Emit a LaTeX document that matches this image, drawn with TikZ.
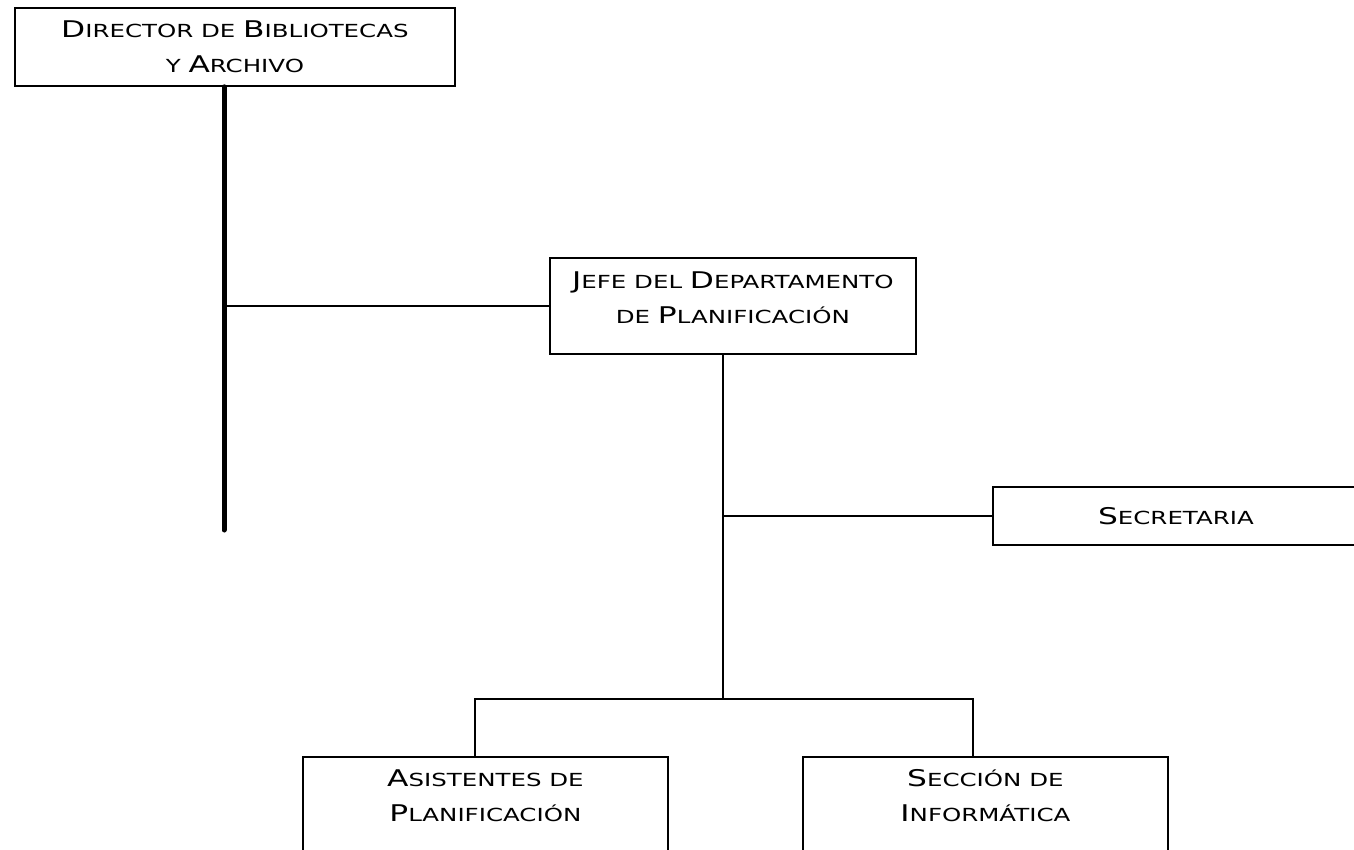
\documentclass[tikz,border=0pt]{standalone}
\usepackage{fontspec}
\setmainfont{DejaVu Sans}[FakeStretch=1.36]
\newcommand\Cap[1]{{\fontsize{23}{35}\selectfont #1}}
\newcommand\boxtext[4]{\begin{minipage}[t][#2][t]{#1}\centering\fontsize{18}{35}\selectfont\rule{0pt}{#3}#4\end{minipage}}
\tikzset{
  orgbox/.style={draw=black, line width=1.8pt, inner sep=0pt, anchor=north west, fill=white},
  link/.style={draw=black, line width=1.8pt},
  trunk/.style={draw=black, line width=5pt, line cap=round},
}
\begin{document}
\begin{tikzpicture}[x=1pt, y=-1pt]
\useasboundingbox (0,0) rectangle (1354,849);
\fill[white] (0,0) rectangle (1354,849);
\clip (0,0) rectangle (1354,849);

\coordinate (trunkend) at (224,530);
\coordinate (spine) at (723,699);
\coordinate (lb) at (475,699);
\coordinate (rb) at (973,699);

\node[orgbox] (dir) at (14,7) {\boxtext{440pt}{78pt}{30pt}{\Cap{D}IRECTOR DE \Cap{B}IBLIOTECAS\\Y \Cap{A}RCHIVO}};
\node[orgbox] (jefe) at (549,257) {\boxtext{366pt}{96pt}{31pt}{\Cap{J}EFE DEL \Cap{D}EPARTAMENTO\\DE \Cap{P}LANIFICACIÓN}};
\node[orgbox] (sec) at (992,486) {\boxtext{366pt}{58pt}{38pt}{\Cap{S}ECRETARIA}};
\node[orgbox] (asis) at (302,756) {\boxtext{365pt}{130pt}{30pt}{\Cap{A}SISTENTES DE\\\Cap{P}LANIFICACIÓN}};
\node[orgbox] (info) at (802,756) {\boxtext{365pt}{130pt}{30pt}{\Cap{S}ECCIÓN DE\\\Cap{I}NFORMÁTICA}};

\draw[trunk] (dir.south -| trunkend) -- (trunkend);
\draw[link] (jefe.west) -- (jefe.west -| trunkend);
\draw[link] (jefe.south -| spine) -- (spine);
\draw[link] (sec.west) -- (sec.west -| spine);
\draw[link] (asis.north -| lb) -- (lb) -- (rb) -- (info.north -| rb);
\end{tikzpicture}
\end{document}
